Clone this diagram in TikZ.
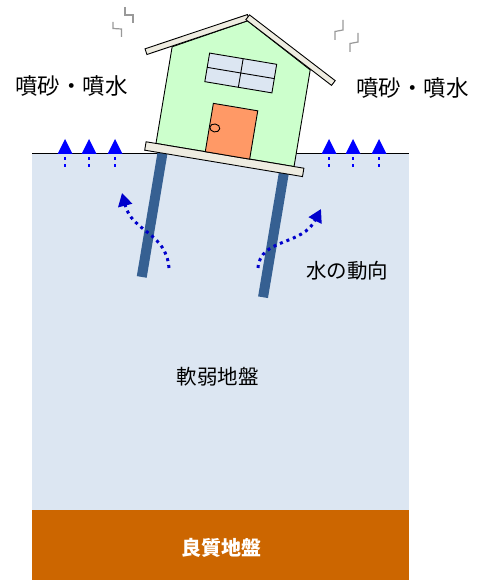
\documentclass[tikz,border=0pt]{standalone}
\usepackage{fontspec}
\setmainfont{Noto Sans CJK JP}
\usetikzlibrary{arrows.meta}

\definecolor{softsoil}{HTML}{DCE6F2}
\definecolor{goodsoil}{HTML}{CC6600}
\definecolor{wallgreen}{HTML}{CCFFCC}
\definecolor{doororange}{HTML}{FF9966}
\definecolor{plank}{HTML}{EEECE1}
\definecolor{pilecol}{HTML}{366092}
\definecolor{spoutblue}{HTML}{0000FF}
\definecolor{flowblue}{HTML}{0000CC}

\tikzset{
  bigtext/.style={inner sep=0pt, font=\fontsize{22.5}{26}\selectfont},
  midtext/.style={inner sep=0pt, font=\fontsize{20.5}{24}\selectfont},
  spout/.style={fill=spoutblue},
  drip/.style={draw=spoutblue, line width=2.6pt, dash pattern=on 2.6pt off 4pt},
  flow/.style={draw=flowblue, line width=3pt, dash pattern=on 3pt off 4pt,
    -{Triangle[length=13pt,width=14pt]}},
  board/.style={draw=black, line width=0.9pt, fill=plank},
  wall/.style={draw=black, line width=0.9pt, fill=wallgreen},
  pile/.style={fill=pilecol},
  shake/.style={draw=black!40, line width=1.2pt},
}

\begin{document}
\begin{tikzpicture}[x=1pt, y=-1pt]
  \useasboundingbox (0,0) rectangle (479,580);

  % ground layers
  \fill[softsoil] (32,153) rectangle (409,510);
  \fill[goodsoil] (32,510) rectangle (409,580);
  \draw[line width=0.8pt] (32,153) -- (409,153);

  % sand and water coming up
  \foreach \x in {65,89,115,329,353,379} {
    \fill[spout] (\x-7.5,154) -- (\x+7.5,154) -- (\x,139) -- cycle;
    \draw[drip] (\x,157.5) -- (\x,169);
  }

  % house on its piles, tilted
  \begin{scope}[shift={(225,155)}, rotate=-9.5]
    \fill[pile] (-67,8) rectangle (-57,134);
    \fill[pile] (56,8) rectangle (66,134);
    \draw[wall] (-70,0) -- (70,0) -- (70,-98) -- (0,-136) -- (-70,-98) -- cycle;
    \draw[board] (-80,0) rectangle (80,8.5);
    \begin{scope}[shift={(0,-136)}]
      \draw[board, rotate=28] (-106,-6) rectangle (2,0);
      \draw[board, rotate=-28] (-2,-6) rectangle (106,0);
    \end{scope}
    \draw[board, fill=softsoil] (-32,-98) rectangle (36,-69);
    \draw[line width=0.9pt] (2,-98) -- (2,-69);
    \draw[line width=0.9pt] (-32,-83.5) -- (36,-83.5);
    \draw[board, fill=doororange] (-20,-49) rectangle (25,0);
    \draw[line width=0.9pt] (-14.5,-25) ellipse [x radius=5, y radius=4];
  \end{scope}

  % shaking marks
  \draw[shake] (125,7) -- (125,15) -- (133,15) -- (133,23);
  \draw[shake] (113,22) -- (113,28.5) -- (121.5,29) -- (121.5,37);
  \draw[shake] (343,20) -- (343,30) -- (335,31.5) -- (335,40);
  \draw[shake] (358,33) -- (358,42) -- (350,43.5) -- (350,52);

  % water movement
  \coordinate (flowL-s) at (169,268);
  \coordinate (flowL-e) at (122,193);
  \coordinate (flowR-s) at (258,268);
  \coordinate (flowR-e) at (321,209);
  \draw[flow] (flowL-s) .. controls (166,232) and (132,232) .. (flowL-e);
  \draw[flow] (flowR-s) .. controls (260,238) and (302,246) .. (flowR-e);

  \node[bigtext] (spoutL) at (71.5,86) {噴砂・噴水};
  \node[bigtext] (spoutR) at (412.5,88) {噴砂・噴水};
  \node[midtext] (flowtxt) at (347,271) {水の動向};
  \node[midtext] (soft) at (217.5,377) {軟弱地盤};
  \node[midtext, text=white, font=\fontsize{20}{24}\selectfont\bfseries] (good) at (221,548) {良質地盤};
\end{tikzpicture}
\end{document}
